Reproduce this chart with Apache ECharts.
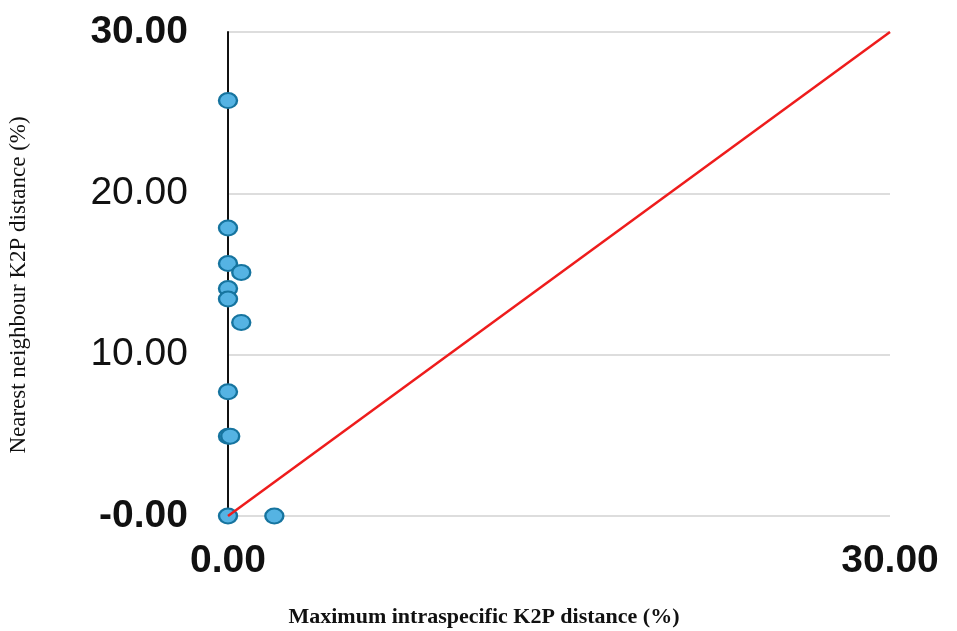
<!DOCTYPE html>
<html>
<head>
<meta charset="utf-8">
<script src="https://cdn.jsdelivr.net/npm/echarts@6/dist/echarts.min.js"></script>
<style>html,body{margin:0;padding:0;background:#fff;}#c{width:957px;height:631px;}</style>
</head>
<body>
<div id="c"></div>
<script>
// Data
var maxIntra = [0, 0, 0, 0.6, 0, 0, 0.6, 0, 0, 0.1, 0, 2.1];
var nearestNeighbour = [25.75, 17.85, 15.65, 15.1, 14.1, 13.45, 12.0, 7.7, 4.95, 4.95, 0, 0];
var refLineX = [0, 30];
var refLineY = [0, 30];

var points = maxIntra.map(function (x, i) { return [x, nearestNeighbour[i]]; });
var linePts = refLineX.map(function (x, i) { return [x, refLineY[i]]; });

var chart = echarts.init(document.getElementById('c'));
chart.setOption({
  animation: false,
  backgroundColor: '#ffffff',
  grid: { left: 228, right: 67, top: 32, bottom: 115, containLabel: false, outerBoundsMode: 'none' },
  xAxis: {
    type: 'value', min: 0, max: 30, interval: 30,
    name: 'Maximum intraspecific K2P distance (%)',
    nameLocation: 'middle', nameGap: 90,
    nameTextStyle: { fontFamily: 'Liberation Serif', fontWeight: 'bold', fontSize: 22, color: '#111', padding: [0, 150, 0, 0] },
    axisLine: { show: false },
    axisTick: { show: false },
    splitLine: { show: false },
    axisLabel: {
      margin: 26, fontFamily: 'Liberation Sans', fontWeight: 'bold', fontSize: 39, color: '#111',
      formatter: function (v) { return v.toFixed(2); }
    }
  },
  yAxis: {
    type: 'value', min: 0, max: 30, interval: 10,
    name: 'Nearest neighbour K2P distance (%)',
    nameLocation: 'middle', nameGap: 198, nameRotate: 90,
    nameTextStyle: { fontFamily: 'Liberation Serif', fontSize: 23, color: '#111', padding: [0, 22, 0, 0] },
    axisLine: { show: true, lineStyle: { color: '#111', width: 2 } },
    axisTick: { show: false },
    splitLine: { show: true, lineStyle: { color: '#dddddd', width: 2 } },
    axisLabel: {
      margin: 40, fontFamily: 'Liberation Sans', fontSize: 39, color: '#111',
      formatter: function (v) {
        var s = v === 0 ? '-0.00' : v.toFixed(2);
        return (v === 0 || v === 30) ? '{b|' + s + '}' : s;
      },
      rich: { b: { fontFamily: 'Liberation Sans', fontWeight: 'bold', fontSize: 39, color: '#111' } }
    }
  },
  series: [
    {
      type: 'scatter', data: points, symbol: 'circle', symbolSize: [18, 15],
      itemStyle: { color: '#55b3e3', borderColor: '#16749f', borderWidth: 2.2, opacity: 1 },
      z: 3
    },
    {
      type: 'line', data: linePts, symbol: 'none',
      lineStyle: { color: '#ee1c1c', width: 2.5 },
      z: 4
    }
  ]
});
</script>
</body>
</html>
